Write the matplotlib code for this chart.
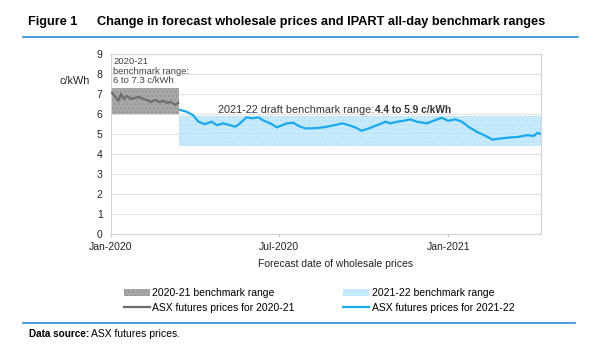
import datetime as dt
import numpy as np
import matplotlib
matplotlib.use("Agg")
import matplotlib.pyplot as plt
import matplotlib.dates as mdates
from matplotlib.patches import Patch
from matplotlib.lines import Line2D

plt.rcParams["font.family"] = ["Liberation Sans", "DejaVu Sans"]

START = dt.date(2020, 1, 1)

# ASX futures 2020-21 (days since 1 Jan 2020, c/kWh)
days_2021 = [1, 4, 8, 11, 14, 17, 22, 26, 30, 35, 39, 43, 48, 52, 57, 61, 65, 70, 73]
price_2021 = [7.05, 6.9, 6.65, 7.0, 6.75, 6.9, 6.75, 6.8, 6.85, 6.75, 6.7, 6.6, 6.7,
              6.6, 6.65, 6.55, 6.6, 6.45, 6.55]

# ASX futures 2021-22
days_2122 = [75, 82, 89, 95, 102, 109, 115, 122, 129, 135, 140, 147, 153, 160, 166, 173,
             180, 186, 191, 198, 204, 211, 218, 227, 234, 243, 251, 258, 265, 272, 280,
             289, 298, 303, 311, 318, 325, 332, 343, 352, 359, 366, 374, 381, 388, 397,
             405, 414, 423, 432, 441, 452, 459, 463, 467]
price_2122 = [6.2, 6.11, 5.94, 5.61, 5.49, 5.61, 5.44, 5.53, 5.44, 5.36, 5.53, 5.83, 5.78,
              5.83, 5.66, 5.53, 5.33, 5.44, 5.53, 5.56, 5.39, 5.28, 5.28, 5.31, 5.36, 5.44,
              5.53, 5.44, 5.33, 5.16, 5.28, 5.44, 5.61, 5.53, 5.61, 5.66, 5.73, 5.61, 5.53,
              5.69, 5.81, 5.66, 5.73, 5.61, 5.36, 5.11, 4.94, 4.72, 4.77, 4.82, 4.85, 4.94,
              4.9, 5.06, 4.99]

# benchmark ranges
range_2021 = (6.0, 7.3)
range_2122 = (4.4, 5.9)
split_day = 74
end_day = 467

def to_dates(ds):
    return [START + dt.timedelta(days=d) for d in ds]

GRAY_BAND = "#a8a8a8"
GRAY_LINE = "#6d6d6d"
BLUE_BAND = "#c8ebfb"
BLUE_LINE = "#19a9ec"
RULE = "#2a8fd6"

fig = plt.figure(figsize=(6, 3.64), dpi=100)
ax = fig.add_axes([0.185, 0.357, 0.717, 0.495])

d0 = START
d_split = START + dt.timedelta(days=split_day)
d_end = START + dt.timedelta(days=end_day)

ax.fill_between([d0, d_split], range_2021[0], range_2021[1], color=GRAY_BAND,
                hatch="....", edgecolor="#969696", linewidth=0, zorder=2)
ax.fill_between([d_split, d_end], range_2122[0], range_2122[1], color=BLUE_BAND,
                hatch="....", edgecolor="#b8e3f8", linewidth=0, zorder=2)
ax.plot(to_dates(days_2021), price_2021, color=GRAY_LINE, lw=1.6, zorder=3)
ax.plot(to_dates(days_2122), price_2122, color=BLUE_LINE, lw=1.6, zorder=3)

ax.set_xlim(d0, d_end)
ax.set_ylim(0, 9)
ax.set_yticks(range(10))
ax.xaxis.set_major_locator(mdates.MonthLocator(bymonth=[1, 7]))
ax.xaxis.set_major_formatter(mdates.DateFormatter("%b-%Y"))
ax.grid(axis="y", color="#e3e3e3", lw=0.8, zorder=0)
for s in ax.spines.values():
    s.set_color("#d4d4d4")
    s.set_linewidth(0.8)
ax.tick_params(axis="both", labelsize=7.5, colors="#222222", length=2.5, width=0.6)
ax.tick_params(axis="y", length=0, pad=6)
ax.tick_params(axis="x", color="#bbbbbb")
ax.set_axisbelow(True)

ax.text(0.005, 0.98, "2020-21\nbenchmark range:\n6 to 7.3 c/kWh", transform=ax.transAxes,
        ha="left", va="top", fontsize=6.8, color="#444444", linespacing=1.05, zorder=4)
ax.text(START + dt.timedelta(days=116), 6.2, "2021-22 draft benchmark range:",
        fontsize=7.8, color="#333333", ha="left", va="center", zorder=4)
ax.text(START + dt.timedelta(days=287), 6.2, "4.4 to 5.9 c/kWh", fontsize=7.3,
        fontweight="bold", color="#333333", ha="left", va="center", zorder=4)

fig.text(90 / 600, 1 - 81 / 364, "c/kWh", fontsize=7.8, ha="right", va="center", color="#222222")
fig.text(336 / 600, 1 - 264 / 364, "Forecast date of wholesale prices", fontsize=7.5,
         ha="center", va="center", color="#222222")

fig.text(28 / 600, 1 - 22 / 364, "Figure 1", fontsize=9.2, fontweight="bold", va="center")
fig.text(97 / 600, 1 - 22 / 364, "Change in forecast wholesale prices and IPART all-day benchmark ranges",
         fontsize=9.2, fontweight="bold", va="center")
fig.add_artist(Line2D([23 / 600, 578 / 600], [1 - 37 / 364] * 2, color=RULE, lw=1.2))
fig.add_artist(Line2D([23 / 600, 575 / 600], [1 - 323 / 364] * 2, color=RULE, lw=1.2))
fig.text(29 / 600, 1 - 334 / 364, "Data source:", fontsize=7.2, fontweight="bold", va="center")
fig.text(91 / 600, 1 - 334 / 364, "ASX futures prices.", fontsize=7.5, va="center")

handles = [Patch(facecolor=GRAY_BAND, edgecolor="#969696", hatch="....", lw=0),
           Line2D([], [], color=GRAY_LINE, lw=1.6),
           Patch(facecolor=BLUE_BAND, edgecolor="#b8e3f8", hatch="....", lw=0),
           Line2D([], [], color=BLUE_LINE, lw=1.6)]
labels = ["2020-21 benchmark range", "ASX futures prices for 2020-21",
          "2021-22 benchmark range", "ASX futures prices for 2021-22"]
fig.legend(handles, labels, ncol=2, loc="center", bbox_to_anchor=(319 / 600, 1 - 300.5 / 364),
           frameon=False, fontsize=7.5, handlelength=2.5, handleheight=0.6,
           handletextpad=0.25, columnspacing=4.6, labelspacing=0.45)

fig.savefig("out.png", dpi=100)
